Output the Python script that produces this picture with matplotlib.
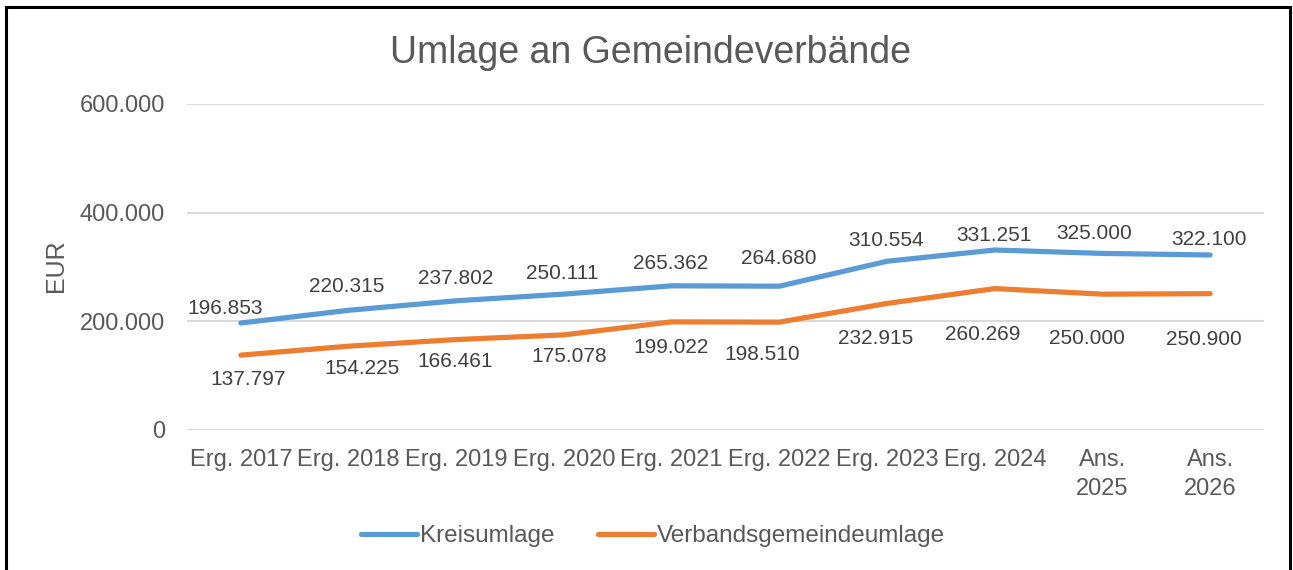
import matplotlib.pyplot as plt
from matplotlib.patches import Rectangle

plt.rcParams['font.family'] = ['Liberation Sans', 'DejaVu Sans']

# data
categories = ['Erg. 2017', 'Erg. 2018', 'Erg. 2019', 'Erg. 2020', 'Erg. 2021',
              'Erg. 2022', 'Erg. 2023', 'Erg. 2024', 'Ans.\n2025', 'Ans.\n2026']
kreisumlage = [196853, 220315, 237802, 250111, 265362,
               264680, 310554, 331251, 325000, 322100]
verbandsumlage = [137797, 154225, 166461, 175078, 199022,
                  198510, 232915, 260269, 250000, 250900]

# label placement (pixels, relative to the point, up is positive)
kreis_dx = [-16, -2, -1, -2, -1, -1, -1, -1, -8, -1]
kreis_dy = [17, 26, 24, 23, 24, 30, 23, 17, 22, 17]
verb_dx = [7, 13, -1, 5, -1, -17, -11, -12, -16, -6]
verb_dy = [-22, -20, -20, -20, -24, -30, -33, -44, -42, -44]

text_col = '#595959'
label_col = '#404040'
blue = '#5B9BD5'
orange = '#ED7D31'
px = 0.72  # points per pixel at dpi 100


def fmt(v):
    return '{:,}'.format(v).replace(',', '.')


fig = plt.figure(figsize=(12.93, 5.70), dpi=100)
ax = fig.add_axes([187 / 1293, 1 - 430 / 570, (1264 - 187) / 1293, (430 - 104) / 570])

x = list(range(len(categories)))
ax.plot(x, kreisumlage, color=blue, lw=3.75, solid_capstyle='round', label='Kreisumlage')
ax.plot(x, verbandsumlage, color=orange, lw=3.75, solid_capstyle='round',
        label='Verbandsgemeindeumlage')

for i, v in enumerate(kreisumlage):
    ax.annotate(fmt(v), (i, v), xytext=(kreis_dx[i] * px, (kreis_dy[i] - 7.5) * px),
                textcoords='offset points', ha='center', va='baseline',
                fontsize=15, color=label_col)
for i, v in enumerate(verbandsumlage):
    ax.annotate(fmt(v), (i, v), xytext=(verb_dx[i] * px, (verb_dy[i] - 7.5) * px),
                textcoords='offset points', ha='center', va='baseline',
                fontsize=15, color=label_col)

ax.set_xlim(-0.5, len(categories) - 0.5)
ax.set_ylim(0, 600000)
ax.set_yticks([0, 200000, 400000, 600000])
ax.set_yticklabels([fmt(v) for v in [0, 200000, 400000, 600000]])
ax.set_xticks(x)
ax.set_xticklabels(categories, linespacing=1.4)
ax.tick_params(axis='both', length=0, labelsize=17, labelcolor=text_col)
ax.tick_params(axis='y', pad=16)
ax.tick_params(axis='x', pad=14)
ax.grid(axis='y', color='#D9D9D9', lw=1.5)
ax.set_axisbelow(True)
for s in ax.spines.values():
    s.set_visible(False)

fig.text(56 / 1293, 1 - 266 / 570, 'EUR', rotation=90, ha='center', va='center',
         fontsize=18, color=text_col)

fig.text(650 / 1293, 1 - 53 / 570, 'Umlage an Gemeindeverbände', ha='center', va='center',
         fontsize=27, color=text_col)

fig.legend(loc='center', bbox_to_anchor=(653 / 1293, 1 - 536 / 570), ncol=2, frameon=False,
           fontsize=17.5, labelcolor=text_col, handlelength=2.3, handletextpad=0.1,
           columnspacing=1.8)

fig.patches.append(Rectangle((6 / 1293, -0.05), (1290 - 6) / 1293, 1.05 - 7 / 570,
                             transform=fig.transFigure, fill=False, ec='black', lw=2.2))

fig.savefig('out.png', dpi=100)
